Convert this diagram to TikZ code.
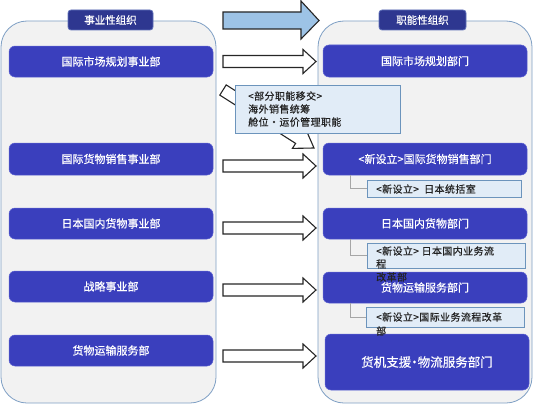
\documentclass[tikz,border=0pt]{standalone}
\usepackage{fontspec}
\newfontfamily\cjk[FakeBold=0.6]{Noto Sans CJK SC}
\newfontfamily\cjks[FakeBold=0.5,LetterSpace=4]{Noto Sans CJK SC}
\usetikzlibrary{calc}
\definecolor{panelfill}{HTML}{F2F2F2}
\definecolor{paneldraw}{HTML}{7E9FC4}
\definecolor{boxfill}{HTML}{3A3FBD}
\definecolor{boxdraw}{HTML}{5D63D2}
\definecolor{titlefill}{HTML}{2E3790}
\definecolor{titledraw}{HTML}{6070B8}
\definecolor{subfill}{HTML}{E1ECF7}
\definecolor{subdraw}{HTML}{6C94BC}
\definecolor{arrowblue}{HTML}{9DC3E6}
\definecolor{txtdark}{HTML}{222222}
\begin{document}
\begin{tikzpicture}[x=1pt,y=-1pt,
  panel/.style={draw=paneldraw, fill=panelfill, line width=0.8pt, rounded corners=26pt, inner sep=0pt},
  titlebox/.style={draw=titledraw, fill=titlefill, line width=0.8pt, rounded corners=3pt, text=white, font=\cjk\fontsize{10.5}{12}\selectfont, minimum height=20pt, inner sep=0pt},
  bluebox/.style={draw=boxdraw, fill=boxfill, line width=0.5pt, rounded corners=6pt, text=white, font=\cjk\fontsize{11}{13}\selectfont, minimum width=204pt, inner sep=0pt},
  subbox/.style={draw=subdraw, fill=subfill, line width=0.7pt, inner sep=0pt},
  subtext/.style={anchor=west, inner sep=0pt, text=txtdark, font=\cjks\fontsize{10}{12}\selectfont},
  conn/.style={draw=gray!70, line width=0.8pt},
  blockarrow/.style={draw=black!85, line width=1.1pt, fill=white, line join=miter}
]
\useasboundingbox (0,0) rectangle (534,404);

% panels
\node[panel, minimum width=215pt, minimum height=382pt] (lp) at (108.5,212) {};
\node[panel, minimum width=214pt, minimum height=382pt] (rp) at (425,212) {};

% titles
\node[titlebox, minimum width=85pt] (lt) at (110.5,20) {事业性组织};
\node[titlebox, minimum width=87pt] (rt) at (422.5,20) {职能性组织};

% left boxes
\node[bluebox, minimum height=31pt] (l1) at (111,61.5) {国际市场规划事业部};
\node[bluebox, minimum height=32pt] (l2) at (111,159) {国际货物销售事业部};
\node[bluebox, minimum height=31pt] (l3) at (111,223.5) {日本国内货物事业部};
\node[bluebox, minimum height=31pt] (l4) at (111,286.5) {战略事业部};
\node[bluebox, minimum height=31pt] (l5) at (111,350.5) {货物运输服务部};

% right boxes
\node[bluebox, minimum height=32pt] (r1) at (425,61) {国际市场规划部门};
\node[bluebox, minimum height=32pt] (r2) at (425,159) {<新设立>国际货物销售部门};
\node[bluebox, minimum height=31pt] (r3) at (425,223.5) {日本国内货物部门};
\node[bluebox, minimum height=31pt] (r4) at (425,287.5) {货物运输服务部门};
\node[bluebox, minimum height=56pt, font=\cjk\fontsize{12.5}{15}\selectfont] (r5) at (427,362) {货机支援\kern-3pt·\kern-3pt物流服务部门};

% sub boxes
\node[subbox, minimum width=154pt, minimum height=17pt] (s1) at (444,188.5) {};
\node[subbox, minimum width=158pt, minimum height=25pt] (s2) at (446,255.5) {};
\node[subbox, minimum width=158pt, minimum height=20pt] (s3) at (445,317) {};

\draw[conn] ($(r2.south west)+(28,0)$) |- (s1.west);
\draw[conn] ($(r3.south west)+(28,0)$) |- (s2.west);
\draw[conn] ($(r4.south west)+(28,0)$) |- (s3.west);

\node[subtext] (s1t) at (376,189) {<新设立>\ \ 日本统括室};
\node[subtext] (s2t1) at (376,251) {<新设立> 日本国内业务流};
\node[subtext] (s2t2) at (376,264) {程};
\node[subtext] (s2t3) at (376,277) {改革部};
\node[subtext] (s3t1) at (376,317) {<新设立>国际业务流程改革};
\node[subtext] (s3t2) at (376,331) {部};

% big blue arrow
\draw[blockarrow, fill=arrowblue] (223,12) -- (301,12) -- (301,1) -- (319,20.5) -- (301,39) -- (301,29) -- (223,29) -- cycle;

% white arrows
\foreach \yy in {61.5,166,228,290,356}{
  \draw[blockarrow] (223,\yy-6) -- (303,\yy-6) -- (303,\yy-12) -- (316,\yy) -- (303,\yy+12) -- (303,\yy+6) -- (223,\yy+6) -- cycle;
}

% bent diagonal arrow
\draw[blockarrow] (219.8,95.1) -- (226.2,84.9) -- (302.0,133.2) -- (305.3,128.2) -- (314,148) -- (292.4,148.4) -- (295.6,143.4) -- cycle;

% transfer note box
\node[subbox, minimum width=165pt, minimum height=48pt] (note) at (317.5,109) {};
\node[subtext] (n1) at (248,96) {<部分职能移交>};
\node[subtext] (n2) at (248,109) {海外销售统筹};
\node[subtext] (n3) at (248,122) {舱位・运价管理职能};
\end{tikzpicture}
\end{document}
